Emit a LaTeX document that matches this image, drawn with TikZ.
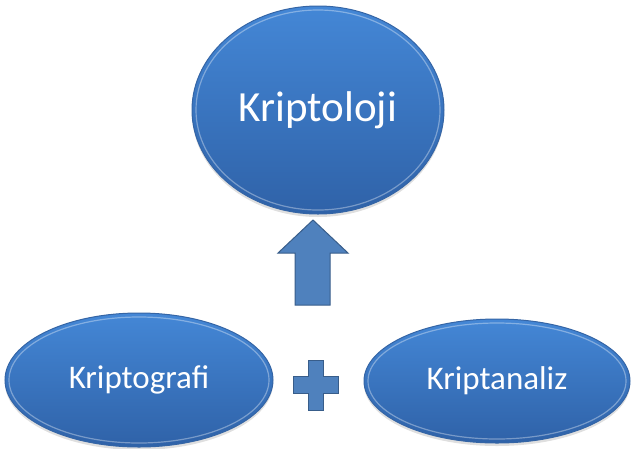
\documentclass[tikz,border=0pt]{standalone}
\usepackage{fontspec}
\setmainfont{Carlito}
\usetikzlibrary{shapes.geometric,shadows}
\definecolor{bluetop}{HTML}{4487D6}
\definecolor{bluebot}{HTML}{2F62A8}
\definecolor{blueedge}{HTML}{3565A5}
\definecolor{arrfill}{HTML}{4F81BD}
\definecolor{arredge}{HTML}{385D8A}
\tikzset{
  oval/.style={ellipse, inner sep=0pt, top color=bluetop, bottom color=bluebot,
    draw=blueedge, line width=1pt, text=white,
    drop shadow={opacity=0.25, shadow xshift=0pt, shadow yshift=-3pt}},
  rim/.style={draw=white, draw opacity=0.35, line width=1.2pt},
  blockshape/.style={fill=arrfill, draw=arredge, line width=1pt, line join=miter}
}
\begin{document}
\begin{tikzpicture}[x=1pt,y=-1pt]
\useasboundingbox (0,0) rectangle (632,448);
% top ellipse
\node[oval, minimum width=252pt, minimum height=208pt, font=\fontsize{43}{50}\selectfont] (top) at (318,110) {Kriptoloji};
\draw[rim] (top.center) ellipse [x radius=122, y radius=100];
% bottom left
\node[oval, minimum width=268pt, minimum height=134pt, font=\fontsize{33}{40}\selectfont] (left) at (139,380) {Kriptografi};
\draw[rim] (left.center) ellipse [x radius=130, y radius=63];
% bottom right
\node[oval, minimum width=266pt, minimum height=124pt, font=\fontsize{33}{40}\selectfont] (right) at (497,381) {Kriptanaliz};
\draw[rim] (right.center) ellipse [x radius=129, y radius=58];
% up arrow
\coordinate (tip) at (313,220);
\draw[blockshape] (tip) -- (348,253) -- (330,253) -- (330,305) -- (295,305) -- (295,253) -- (278,253) -- cycle;
% plus sign
\draw[blockshape] (308,360) -- (323,360) -- (323,376) -- (338,376) -- (338,393) -- (323,393) -- (323,410) -- (308,410) -- (308,393) -- (293,393) -- (293,376) -- (308,376) -- cycle;
\end{tikzpicture}
\end{document}
